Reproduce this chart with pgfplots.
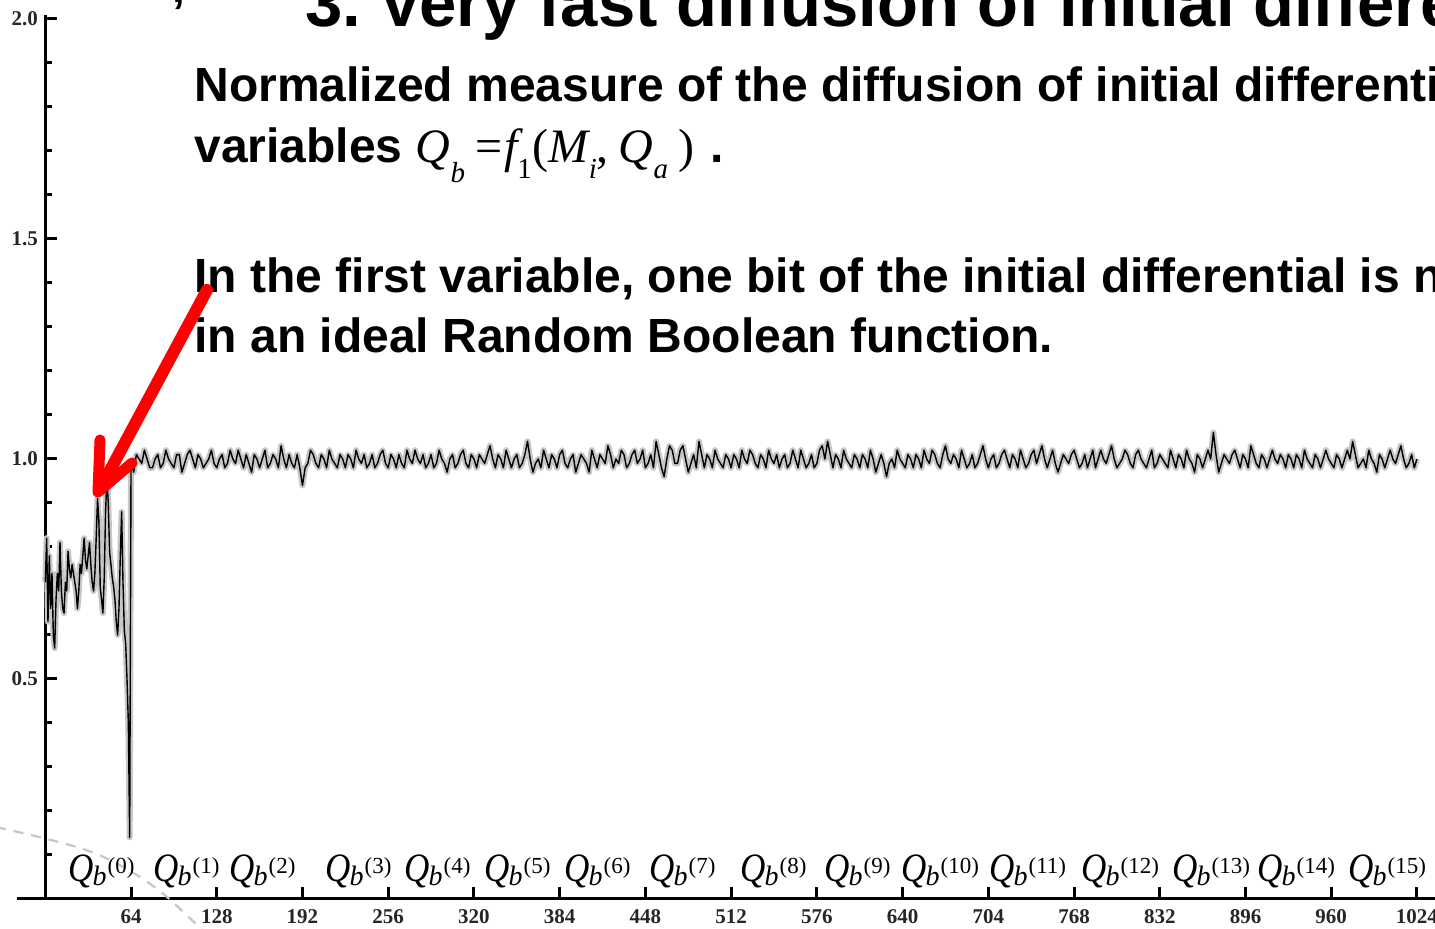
\documentclass[border=0pt]{standalone}
\usepackage{pgfplots}
\pgfplotsset{compat=1.18}
\usepackage{pgfplotstable}
\usepackage{fontspec}
\setmainfont{Liberation Sans}
\newfontfamily\tms{Liberation Serif}
\newcommand\Qb[1]{\scalebox{1}[1.15]{\tms\itshape\fontsize{17.5}{17.5}\selectfont Q}\kern-0.5pt\raisebox{-2pt}{\tms\itshape\fontsize{14}{14}\selectfont b}\kern0.5pt\raisebox{4pt}{\tms\fontsize{11.5}{11.5}\selectfont(#1)}}
\newcommand\bgm{\tms\mdseries\fontsize{24}{24}\selectfont}
\newcommand\sml{\tms\mdseries\fontsize{14.5}{14.5}\selectfont}

\pgfplotstableread[row sep=\\]{
x y\\
0 0.72\\ 1 0.82\\ 2 0.63\\ 3 0.78\\ 4 0.66\\ 5 0.74\\ 6 0.60\\ 7 0.57\\ 8 0.68\\ 9 0.74\\
10 0.70\\ 11 0.81\\ 12 0.70\\ 13 0.66\\ 14 0.65\\ 15 0.72\\ 16 0.70\\ 17 0.79\\ 18 0.75\\ 19 0.73\\
20 0.76\\ 21 0.74\\ 22 0.72\\ 23 0.70\\ 24 0.66\\ 25 0.70\\ 26 0.76\\ 27 0.74\\ 28 0.78\\ 29 0.82\\
30 0.77\\ 31 0.75\\ 32 0.78\\ 33 0.81\\ 34 0.76\\ 35 0.72\\ 36 0.70\\ 37 0.74\\ 38 0.82\\ 39 0.91\\
40 0.86\\ 41 0.71\\ 42 0.68\\ 43 0.65\\ 44 0.73\\ 45 0.88\\ 46 0.96\\ 47 0.90\\ 48 0.79\\ 49 0.76\\
50 0.73\\ 51 0.71\\ 52 0.68\\ 53 0.63\\ 54 0.60\\ 55 0.66\\ 56 0.78\\ 57 0.88\\ 58 0.72\\ 59 0.61\\
60 0.58\\ 61 0.50\\ 62 0.40\\ 63 0.14\\
64 0.99\\ 66 0.97\\ 68 1.01\\ 70 1.00\\ 72 0.99\\ 74 1.02\\ 76 1.00\\ 78 0.98\\ 80 0.98\\ 82 1.00\\
84 1.01\\ 86 0.98\\ 88 0.99\\ 90 1.02\\ 92 1.00\\ 94 0.99\\ 96 0.98\\ 98 1.01\\ 100 1.01\\ 102 0.97\\
104 0.99\\ 106 1.01\\ 108 1.02\\ 110 1.00\\ 112 0.98\\ 114 1.01\\ 116 1.00\\ 118 0.98\\ 120 0.99\\ 122 1.00\\
124 1.02\\ 126 0.99\\ 128 0.98\\ 130 1.00\\ 132 1.01\\ 134 0.98\\ 136 0.99\\ 138 1.02\\ 140 1.00\\ 142 0.99\\
144 1.02\\ 146 1.00\\ 148 0.98\\ 150 1.01\\ 152 0.99\\ 154 0.97\\ 156 1.01\\ 158 1.00\\ 160 0.98\\ 162 1.00\\
164 1.02\\ 166 0.98\\ 168 0.99\\ 170 1.01\\ 172 1.00\\ 174 0.98\\ 176 1.03\\ 178 1.00\\ 180 0.98\\ 182 1.01\\
184 0.99\\ 186 0.98\\ 188 1.01\\ 190 0.98\\ 192 0.94\\ 194 0.98\\ 196 0.99\\ 198 1.02\\ 200 1.01\\ 202 0.99\\
204 0.98\\ 206 1.01\\ 208 1.00\\ 210 0.98\\ 212 1.02\\ 214 1.00\\ 216 0.99\\ 218 0.98\\ 220 1.01\\ 222 1.00\\
224 0.98\\ 226 1.01\\ 228 1.00\\ 230 0.98\\ 232 1.02\\ 234 1.00\\ 236 0.99\\ 238 1.01\\ 240 0.98\\ 242 0.99\\
244 1.01\\ 246 0.98\\ 248 0.99\\ 250 1.01\\ 252 1.02\\ 254 0.99\\ 256 0.98\\ 258 1.01\\ 260 1.00\\ 262 0.98\\
264 1.01\\ 266 0.99\\ 268 0.98\\ 270 1.02\\ 272 1.00\\ 274 0.99\\ 276 1.02\\ 278 1.00\\ 280 0.99\\ 282 1.01\\
284 0.98\\ 286 0.99\\ 288 1.01\\ 290 0.98\\ 292 0.99\\ 294 1.02\\ 296 1.00\\ 298 0.99\\ 300 0.97\\ 302 1.00\\
304 1.01\\ 306 0.98\\ 308 0.99\\ 310 1.01\\ 312 1.02\\ 314 0.99\\ 316 0.98\\ 318 1.01\\ 320 1.00\\ 322 0.98\\
324 1.01\\ 326 1.00\\ 328 0.99\\ 330 1.01\\ 332 1.03\\ 334 1.00\\ 336 0.98\\ 338 1.01\\ 340 1.00\\ 342 0.98\\
344 1.02\\ 346 1.00\\ 348 0.98\\ 350 1.00\\ 352 1.01\\ 354 0.98\\ 356 0.99\\ 358 1.01\\ 360 1.04\\ 362 1.00\\
364 0.97\\ 366 0.99\\ 368 1.00\\ 370 0.98\\ 372 1.02\\ 374 1.00\\ 376 0.98\\ 378 1.01\\ 380 1.00\\ 382 0.98\\
384 1.01\\ 386 1.02\\ 388 0.99\\ 390 0.98\\ 392 1.00\\ 394 1.01\\ 396 0.97\\ 398 0.99\\ 400 1.01\\ 402 1.00\\
404 0.99\\ 406 0.97\\ 408 1.02\\ 410 1.00\\ 412 0.98\\ 414 1.01\\ 416 1.00\\ 418 0.99\\ 420 1.03\\ 422 1.01\\
424 0.98\\ 426 1.00\\ 428 0.99\\ 430 1.02\\ 432 1.01\\ 434 0.98\\ 436 0.99\\ 438 1.01\\ 440 1.02\\ 442 0.99\\
444 1.00\\ 446 1.02\\ 448 0.98\\ 450 0.99\\ 452 1.01\\ 454 0.98\\ 456 1.04\\ 458 1.01\\ 460 0.98\\ 462 0.96\\
464 1.00\\ 466 1.03\\ 468 1.02\\ 470 0.99\\ 472 0.99\\ 474 1.02\\ 476 1.03\\ 478 1.00\\ 480 0.97\\ 482 0.99\\
484 1.01\\ 486 0.98\\ 488 1.04\\ 490 1.01\\ 492 0.98\\ 494 1.01\\ 496 1.00\\ 498 0.98\\ 500 1.02\\ 502 1.00\\
504 0.99\\ 506 0.98\\ 508 1.01\\ 510 1.00\\ 512 0.98\\ 514 1.01\\ 516 1.00\\ 518 0.98\\ 520 1.02\\ 522 1.00\\
524 0.99\\ 526 1.02\\ 528 1.01\\ 530 0.99\\ 532 0.98\\ 534 1.01\\ 536 1.00\\ 538 0.98\\ 540 1.02\\ 542 1.00\\
544 0.99\\ 546 1.01\\ 548 0.98\\ 550 1.00\\ 552 1.01\\ 554 0.98\\ 556 0.99\\ 558 1.02\\ 560 1.00\\ 562 0.98\\
564 1.02\\ 566 1.00\\ 568 0.98\\ 570 0.99\\ 572 1.01\\ 574 0.98\\ 576 0.99\\ 578 1.02\\ 580 1.03\\ 582 1.00\\
584 1.04\\ 586 1.01\\ 588 0.98\\ 590 1.01\\ 592 1.00\\ 594 0.98\\ 596 1.02\\ 598 1.00\\ 600 0.99\\ 602 0.98\\
604 1.01\\ 606 1.00\\ 608 0.98\\ 610 1.01\\ 612 1.00\\ 614 0.98\\ 616 1.02\\ 618 1.00\\ 620 0.97\\ 622 0.99\\
624 1.01\\ 626 0.99\\ 628 0.96\\ 630 0.99\\ 632 1.00\\ 634 0.98\\ 636 1.02\\ 638 1.00\\ 640 0.99\\ 642 0.98\\
644 1.01\\ 646 1.00\\ 648 0.98\\ 650 1.01\\ 652 1.00\\ 654 0.98\\ 656 1.02\\ 658 1.00\\ 660 0.99\\ 662 1.02\\
664 1.01\\ 666 0.99\\ 668 0.98\\ 670 1.01\\ 672 1.03\\ 674 1.00\\ 676 0.99\\ 678 1.01\\ 680 1.00\\ 682 0.98\\
684 1.02\\ 686 1.00\\ 688 0.98\\ 690 0.99\\ 692 1.01\\ 694 0.98\\ 696 0.99\\ 698 1.01\\ 700 1.03\\ 702 1.00\\
704 0.98\\ 706 1.00\\ 708 1.01\\ 710 0.98\\ 712 0.99\\ 714 1.01\\ 716 1.02\\ 718 1.00\\ 720 0.98\\ 722 1.01\\
724 1.00\\ 726 0.98\\ 728 1.02\\ 730 1.00\\ 732 0.98\\ 734 0.99\\ 736 1.01\\ 738 1.02\\ 740 0.99\\ 742 1.01\\
744 1.03\\ 746 1.00\\ 748 0.98\\ 750 1.00\\ 752 1.02\\ 754 0.99\\ 756 0.97\\ 758 0.99\\ 760 1.01\\ 762 1.00\\
764 0.99\\ 766 1.01\\ 768 1.02\\ 770 1.00\\ 772 0.98\\ 774 0.99\\ 776 1.01\\ 778 0.98\\ 780 1.00\\ 782 1.02\\
784 0.98\\ 786 1.00\\ 788 1.02\\ 790 1.00\\ 792 0.99\\ 794 1.01\\ 796 1.03\\ 798 1.00\\ 800 0.98\\ 802 0.99\\
804 1.00\\ 806 1.02\\ 808 1.01\\ 810 0.99\\ 812 0.98\\ 814 1.01\\ 816 1.02\\ 818 1.00\\ 820 0.99\\ 822 0.98\\
824 1.00\\ 826 1.02\\ 828 0.98\\ 830 0.99\\ 832 1.01\\ 834 1.00\\ 836 0.99\\ 838 0.98\\ 840 1.02\\ 842 1.00\\
844 0.98\\ 846 1.01\\ 848 1.00\\ 850 0.98\\ 852 1.02\\ 854 1.00\\ 856 0.99\\ 858 0.97\\ 860 1.01\\ 862 1.00\\
864 0.98\\ 866 1.00\\ 868 1.02\\ 870 1.00\\ 872 1.06\\ 874 1.01\\ 876 0.97\\ 878 0.99\\ 880 1.01\\ 882 1.00\\
884 0.99\\ 886 1.01\\ 888 1.02\\ 890 1.00\\ 892 0.98\\ 894 1.01\\ 896 1.00\\ 898 0.98\\ 900 1.03\\ 902 1.01\\
904 0.99\\ 906 0.98\\ 908 1.01\\ 910 1.00\\ 912 0.98\\ 914 1.00\\ 916 1.02\\ 918 1.00\\ 920 0.99\\ 922 1.01\\
924 1.00\\ 926 0.98\\ 928 1.01\\ 930 1.00\\ 932 0.98\\ 934 1.01\\ 936 1.00\\ 938 0.98\\ 940 1.02\\ 942 1.00\\
944 0.99\\ 946 0.98\\ 948 1.01\\ 950 1.00\\ 952 0.98\\ 954 1.00\\ 956 1.02\\ 958 1.00\\ 960 0.99\\ 962 0.98\\
964 1.01\\ 966 1.00\\ 968 0.98\\ 970 1.00\\ 972 1.02\\ 974 1.00\\ 976 1.04\\ 978 1.01\\ 980 0.98\\ 982 0.99\\
984 1.00\\ 986 0.98\\ 988 1.02\\ 990 1.00\\ 992 0.99\\ 994 0.97\\ 996 1.01\\ 998 1.00\\ 1000 0.98\\ 1002 1.00\\
1004 1.02\\ 1006 1.00\\ 1008 0.99\\ 1010 1.01\\ 1012 1.03\\ 1014 1.00\\ 1016 0.98\\ 1018 0.99\\ 1020 1.01\\ 1022 0.98\\
1024 1.00\\
}\data

\begin{document}
\begin{tikzpicture}
\useasboundingbox (0,0) rectangle (717.5pt,464.5pt);
\clip (0,0) rectangle (717.5pt,464.5pt);
\begin{axis}[
  at={(22.65pt,15pt)}, anchor=origin,
  x=0.66975pt, y=220pt,
  xmin=-21, xmax=1045, ymin=0, ymax=2.01,
  axis lines=middle,
  axis line style={-, line width=1.5pt},
  xtick={64,128,192,256,320,384,448,512,576,640,704,768,832,896,960,1024},
  xticklabels={64,128,192,256,320,384,448,512,576,640,704,768,832,896,960,1024},
  ytick={0.5,1,1.5,2},
  yticklabels={0.5,1.0,1.5,2.0},
  minor ytick={0.1,0.2,0.3,0.4,0.6,0.7,0.8,0.9,1.1,1.2,1.3,1.4,1.6,1.7,1.8,1.9},
  tick align=inside,
  major tick length=6pt, minor tick length=3.5pt,
  every tick/.style={black, line width=1.5pt},
  ticklabel style={font=\tms\bfseries\fontsize{10.5}{10.5}\selectfont, inner sep=0pt, text=black!85},
  xticklabel style={anchor=north, yshift=-5pt},
  yticklabel style={anchor=east, xshift=-3.5pt},
]
\addplot[gray!45, line width=3pt, line join=round] table {\data};
\addplot[black, line width=0.7pt, line join=round] table {\data};
\end{axis}
% dashed decorative curve
\draw[gray!45, line width=1.1pt, dash pattern=on 5pt off 4pt] plot[smooth] coordinates {(-2pt,51pt) (17.5pt,46.5pt) (40pt,40.5pt) (55pt,34.5pt) (70pt,26pt) (83.5pt,16pt) (100pt,0.5pt) (108pt,-8pt)};
% Q labels
\foreach \xx/\k in {34/0,76.5/1,114.5/2,162.5/3,202/4,242/5,282/6,324.5/7,370/8,412/9,450.5/10,494.5/11,540.5/12,586/13,628.5/14,674/15}
  \node[anchor=base west, inner sep=0pt] at (\xx pt,23.5pt) {\Qb{\k}};
% texts
\node[anchor=base west, inner sep=0pt, font=\bfseries\fontsize{23}{23}\selectfont] at (86pt,463pt) {,};
\node[anchor=base west, inner sep=0pt, font=\bfseries\fontsize{33.5}{33.5}\selectfont] at (152.5pt,451pt) {3.};
\node[anchor=base west, inner sep=0pt, font=\bfseries\fontsize{33.5}{33.5}\selectfont] at (189pt,451pt) {Very fast diffusion of initial differentials};
\node[anchor=base west, inner sep=0pt, font=\bfseries\fontsize{24}{24}\selectfont] at (97pt,413.5pt) {Normalized measure of the diffusion of initial differentials};
\node[anchor=base west, inner sep=0pt, font=\bfseries\fontsize{24}{24}\selectfont] at (97pt,383pt) {variables {\bgm\itshape Q}\raisebox{-10pt}{\sml\itshape b}\kern5pt{\bgm=}\kern1pt{\bgm\itshape f}\raisebox{-8pt}{\sml 1}\kern0.5pt{\bgm(}{\bgm\itshape M}\raisebox{-8pt}{\sml\itshape i}{\bgm,}\kern5pt{\bgm\itshape Q}\raisebox{-8pt}{\sml\itshape a}\kern5pt{\bgm)}\kern8pt.};
\node[anchor=base west, inner sep=0pt, font=\bfseries\fontsize{24}{24}\selectfont] at (97pt,318pt) {In the first variable, one bit of the initial differential is not diffused as};
\node[anchor=base west, inner sep=0pt, font=\bfseries\fontsize{24}{24}\selectfont] at (97pt,288pt) {in an ideal Random Boolean function.};
% red arrow
\draw[red, line width=6pt, line cap=round] (103.5pt,319.5pt) -- (50pt,220pt);
\draw[red, line width=5.5pt, line cap=round, line join=round] (50pt,244.5pt) -- (49pt,218.5pt) -- (66pt,233pt);
\end{tikzpicture}
\end{document}
